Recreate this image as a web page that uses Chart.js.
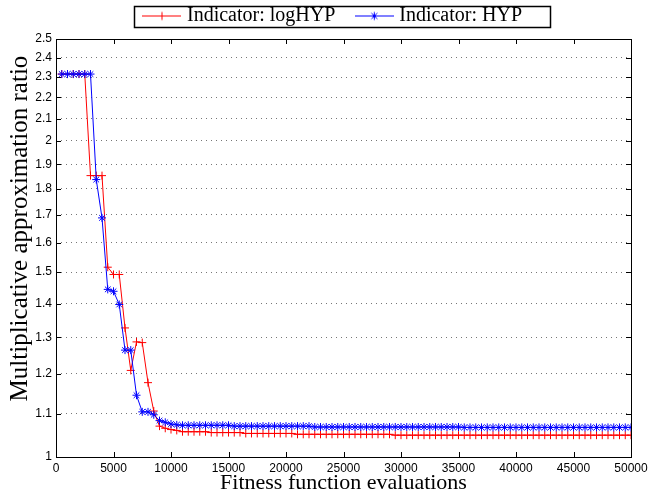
<!DOCTYPE html>
<html>
<head>
<meta charset="utf-8">
<script src="https://cdn.jsdelivr.net/npm/chart.js@4.4.0/dist/chart.umd.min.js"></script>
<style>
  html, body { margin: 0; padding: 0; background: #fff; }
</style>
</head>
<body>
<canvas id="chart" width="660" height="500"></canvas>
<script>
// fitness function evaluations (one sample every 500)
const evaluations = [
  500, 1000, 1500, 2000, 2500, 3000, 3500, 4000, 4500, 5000,
  5500, 6000, 6500, 7000, 7500, 8000, 8500, 9000, 9500, 10000,
  10500, 11000, 11500, 12000, 12500, 13000, 13500, 14000, 14500, 15000,
  15500, 16000, 16500, 17000, 17500, 18000, 18500, 19000, 19500, 20000,
  20500, 21000, 21500, 22000, 22500, 23000, 23500, 24000, 24500, 25000,
  25500, 26000, 26500, 27000, 27500, 28000, 28500, 29000, 29500, 30000,
  30500, 31000, 31500, 32000, 32500, 33000, 33500, 34000, 34500, 35000,
  35500, 36000, 36500, 37000, 37500, 38000, 38500, 39000, 39500, 40000,
  40500, 41000, 41500, 42000, 42500, 43000, 43500, 44000, 44500, 45000,
  45500, 46000, 46500, 47000, 47500, 48000, 48500, 49000, 49500, 50000
];

// Indicator: logHYP
const logHYP = [
  2.315, 2.315, 2.315, 2.315, 2.315, 1.853, 1.853, 1.853, 1.516, 1.492,
  1.492, 1.327, 1.209, 1.287, 1.285, 1.177, 1.106, 1.070, 1.065, 1.062,
  1.060, 1.057, 1.057, 1.057, 1.057, 1.057, 1.055, 1.055, 1.055, 1.055,
  1.055, 1.055, 1.053, 1.053, 1.053, 1.053, 1.053, 1.053, 1.053, 1.053,
  1.053, 1.051, 1.051, 1.051, 1.051, 1.051, 1.051, 1.051, 1.051, 1.051,
  1.051, 1.051, 1.051, 1.051, 1.051, 1.051, 1.051, 1.051, 1.049, 1.049,
  1.049, 1.049, 1.049, 1.049, 1.049, 1.049, 1.049, 1.049, 1.049, 1.049,
  1.049, 1.049, 1.049, 1.049, 1.049, 1.049, 1.049, 1.049, 1.049, 1.049,
  1.049, 1.049, 1.049, 1.049, 1.049, 1.049, 1.049, 1.049, 1.049, 1.049,
  1.049, 1.049, 1.049, 1.049, 1.049, 1.049, 1.049, 1.049, 1.049, 1.049
];

// Indicator: HYP
const HYP = [
  2.315, 2.315, 2.315, 2.315, 2.315, 2.315, 1.837, 1.689, 1.444, 1.438,
  1.397, 1.264, 1.264, 1.145, 1.104, 1.104, 1.097, 1.083, 1.079, 1.075,
  1.073, 1.072, 1.072, 1.072, 1.072, 1.072, 1.072, 1.072, 1.072, 1.072,
  1.070, 1.070, 1.070, 1.070, 1.070, 1.070, 1.070, 1.070, 1.070, 1.070,
  1.070, 1.070, 1.070, 1.070, 1.068, 1.068, 1.068, 1.068, 1.068, 1.068,
  1.068, 1.068, 1.068, 1.068, 1.068, 1.068, 1.068, 1.068, 1.068, 1.068,
  1.068, 1.068, 1.068, 1.068, 1.068, 1.068, 1.068, 1.068, 1.068, 1.068,
  1.067, 1.067, 1.067, 1.067, 1.067, 1.067, 1.067, 1.067, 1.067, 1.067,
  1.067, 1.067, 1.067, 1.067, 1.067, 1.067, 1.067, 1.067, 1.067, 1.067,
  1.067, 1.067, 1.067, 1.067, 1.067, 1.067, 1.067, 1.067, 1.067, 1.067
];

const yTicks = [1, 1.1, 1.2, 1.3, 1.4, 1.5, 1.6, 1.7, 1.8, 1.9, 2, 2.1, 2.2, 2.3, 2.4, 2.5];
const seriesNames = ['Indicator: logHYP', 'Indicator: HYP'];
const xTitle = 'Fitness function evaluations';
const yTitle = 'Multiplicative approximation ratio';

const serif = "'Liberation Serif', 'DejaVu Serif', serif";
const sans = "'Liberation Sans', Arial, sans-serif";

function toPoints(values) {
  return values.map((v, i) => ({ x: evaluations[i], y: v }));
}

// small line+marker swatch for the legend
function swatch(color, marker) {
  const c = document.createElement('canvas');
  c.width = 39; c.height = 11;
  const g = c.getContext('2d');
  g.strokeStyle = color;
  g.lineWidth = 1;
  g.beginPath();
  g.moveTo(0, 5.5); g.lineTo(39, 5.5);
  g.moveTo(19.5, 1.5); g.lineTo(19.5, 9.5);
  if (marker === 'star') {
    g.moveTo(16.5, 2.5); g.lineTo(22.5, 8.5);
    g.moveTo(22.5, 2.5); g.lineTo(16.5, 8.5);
  }
  g.stroke();
  return c;
}

const framePlugin = {
  id: 'frame',
  beforeLayout(chart) {
    // a bit more room under the legend than chart.js gives
    const lg = chart.legend;
    if (lg && !lg._fitPatched) {
      const fit = lg.fit;
      lg.fit = function () { fit.call(this); this.height += 3; };
      lg._fitPatched = true;
    }
  },
  afterLayout(chart) {
    // legend row sits a little left of centre in the original
    if (chart.legend && chart.legend.lineWidths) chart.legend.lineWidths[0] += 18;
  },
  afterDraw(chart) {
    const ctx = chart.ctx;
    const a = chart.chartArea;
    const xs = chart.scales.x, ys = chart.scales.y;
    ctx.save();
    ctx.strokeStyle = '#000';
    ctx.lineWidth = 1;
    ctx.beginPath();
    xs.ticks.forEach(t => {
      const px = Math.round(xs.getPixelForValue(t.value)) + 0.5;
      ctx.moveTo(px, a.bottom); ctx.lineTo(px, a.bottom - 5);
      ctx.moveTo(px, a.top); ctx.lineTo(px, a.top + 5);
    });
    ys.ticks.forEach(t => {
      const py = Math.round(ys.getPixelForValue(t.value)) + 0.5;
      ctx.moveTo(a.left, py); ctx.lineTo(a.left + 5, py);
      ctx.moveTo(a.right, py); ctx.lineTo(a.right - 5, py);
    });
    ctx.stroke();
    ctx.strokeRect(Math.round(a.left) + 0.5, Math.round(a.top) + 0.5,
      Math.round(a.right - a.left), Math.round(a.bottom - a.top));

    // y label, sitting a little above the middle as in the original
    ctx.translate(20, ys.getPixelForValue(1.65));
    ctx.rotate(-Math.PI / 2);
    ctx.fillStyle = '#000';
    ctx.font = "25px " + serif;
    ctx.textAlign = 'center';
    ctx.textBaseline = 'middle';
    ctx.fillText(yTitle, 0, 0);
    ctx.setTransform(1, 0, 0, 1, 0, 0);

    // box around the legend
    const hb = chart.legend.legendHitBoxes;
    if (hb && hb.length) {
      const last = hb[hb.length - 1];
      const cy = hb[0].top + hb[0].height / 2;
      const l = Math.round(hb[0].left - 13) + 0.5;
      const r = Math.round(last.left + last.width + 28) + 0.5;
      ctx.lineWidth = 1.5;
      ctx.strokeRect(l, Math.round(cy - 10.5) + 0.5, r - l, 21);
    }
    ctx.restore();
  }
};

const ctx = document.getElementById('chart').getContext('2d');
const myChart = new Chart(ctx, {
  type: 'line',
  data: {
    datasets: [{
      label: seriesNames[0],
      data: toPoints(logHYP),
      borderColor: '#ff0000',
      borderWidth: 1,
      pointStyle: 'cross',
      pointRadius: 4,
      pointBorderWidth: 1,
      pointBorderColor: '#ff0000',
      fill: false,
      order: 2
    }, {
      label: seriesNames[1],
      data: toPoints(HYP),
      borderColor: '#0000ff',
      borderWidth: 1,
      pointStyle: 'star',
      pointRadius: 4,
      pointBorderWidth: 1,
      pointBorderColor: '#0000ff',
      fill: false,
      order: 1
    }]
  },
  options: {
    responsive: false,
    animation: false,
    layout: { padding: { top: -18, right: 29, left: 0, bottom: 0 } },
    elements: { line: { tension: 0 } },
    plugins: {
      tooltip: { enabled: false },
      legend: {
        position: 'top',
        fullSize: false,
        labels: {
          usePointStyle: true,
          pointStyleWidth: 30,
          boxHeight: 11,
          padding: 24,
          color: '#000',
          font: { family: serif, size: 20 },
          generateLabels: () => [
            { text: seriesNames[0], pointStyle: swatch('#ff0000', 'cross'), fillStyle: '#ff0000', strokeStyle: '#ff0000', lineWidth: 1, hidden: false, datasetIndex: 0 },
            { text: seriesNames[1], pointStyle: swatch('#0000ff', 'star'), fillStyle: '#0000ff', strokeStyle: '#0000ff', lineWidth: 1, hidden: false, datasetIndex: 1 }
          ]
        }
      }
    },
    scales: {
      x: {
        type: 'linear',
        min: 0,
        max: 50000,
        afterFit: s => { s.height = 43; },
        ticks: {
          stepSize: 5000,
          color: '#000',
          padding: 4,
          maxRotation: 0,
          font: { family: sans, size: 12 },
          callback: v => String(v)
        },
        grid: { display: false, drawTicks: false },
        border: { display: false },
        title: {
          display: true,
          text: xTitle,
          color: '#000',
          padding: { top: 0, bottom: 4 },
          font: { family: serif, size: 22 }
        }
      },
      y: {
        type: 'logarithmic',
        min: 1,
        max: 2.5,
        afterFit: s => { s.width = 56; },
        afterBuildTicks: s => { s.ticks = yTicks.map(v => ({ value: v })); },
        ticks: {
          color: '#000',
          padding: 4,
          font: { family: sans, size: 12 },
          callback: v => String(v)
        },
        grid: { color: '#777', drawTicks: false, lineWidth: 1 },
        border: { display: false, dash: [1, 4] },
        title: { display: false }
      }
    }
  },
  plugins: [framePlugin]
});
</script>
</body>
</html>
